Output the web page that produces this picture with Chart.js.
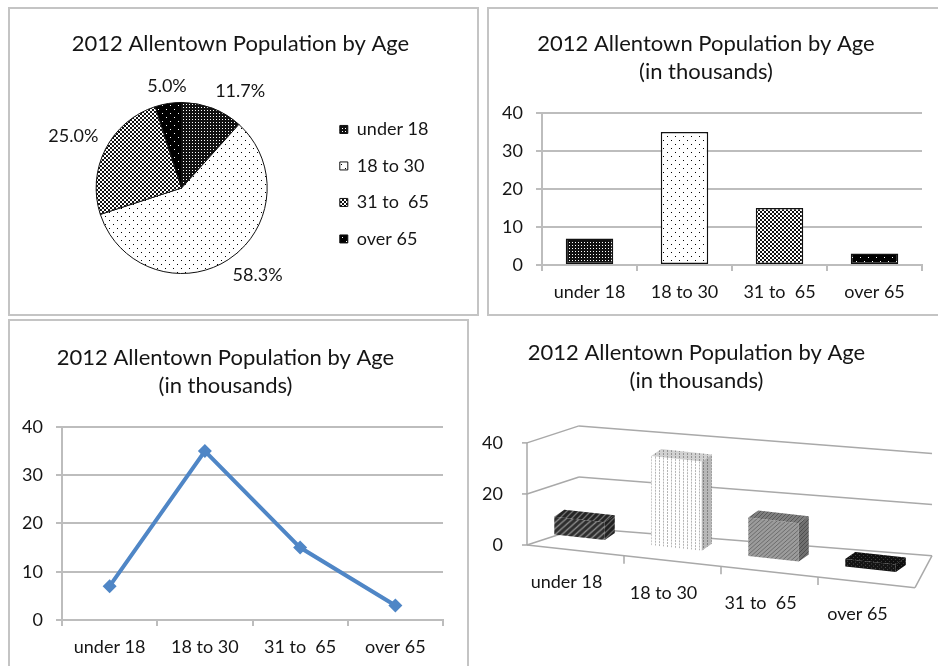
<!DOCTYPE html>
<html>
<head>
<meta charset="utf-8">
<title>2012 Allentown Population by Age</title>
<script src="https://cdn.jsdelivr.net/npm/chart.js@4.4.0/dist/chart.umd.min.js"></script>
<style>
    html, body { margin: 0; padding: 0; background: #fff; }
    body { width: 938px; height: 666px; position: relative; overflow: hidden; font-family: Lato, sans-serif; }
    .panel { position: absolute; }
    .frame { position: absolute; border: 2px solid #c4c4c4; box-sizing: border-box; pointer-events: none; }
</style>
</head>
<body>
<div class="frame" style="left:8px;top:7px;width:471px;height:309px"></div>
<div class="frame" style="left:487px;top:7px;width:470px;height:309px"></div>
<div class="frame" style="left:8px;top:319px;width:461px;height:400px"></div>

<div class="panel" style="left:8px;top:7px;width:470px;height:308px"><canvas id="pieChart"></canvas></div>
<div class="panel" style="left:490px;top:7px;width:448px;height:308px"><canvas id="barChart"></canvas></div>
<div class="panel" style="left:8px;top:322px;width:465px;height:344px"><canvas id="lineChart"></canvas></div>
<div class="panel" style="left:478px;top:318px;width:460px;height:348px"><canvas id="boxChart"></canvas></div>

<script>
const chartTitle = '2012 Allentown Population by Age';
const unitLine = '(in thousands)';
const categories = ['under 18', '18 to 30', '31 to  65', 'over 65'];
const population = [7, 35, 15, 3];
const yTicks = [0, 10, 20, 30, 40];
const yTicks3d = [0, 20, 40];

const ink = '#151515';
const gridColor = '#bdbdbd';
const titleFont = { family: 'Lato', size: 22, weight: 'normal', lineHeight: 1.27 };
const labelFont = { family: 'Lato', size: 18 };

function tile(w, h, bg, paint) {
    const c = document.createElement('canvas');
    c.width = w;
    c.height = h;
    const g = c.getContext('2d');
    g.fillStyle = bg;
    g.fillRect(0, 0, w, h);
    paint(g);
    return g.createPattern(c, 'repeat');
}

function diagonal(g, n, color, width) {
    g.strokeStyle = color;
    g.lineWidth = width;
    g.beginPath();
    g.moveTo(-1, 1); g.lineTo(1, -1);
    g.moveTo(0, n); g.lineTo(n, 0);
    g.moveTo(n - 1, n + 1); g.lineTo(n + 1, n - 1);
    g.stroke();
}

// Excel style pattern fills (pie + flat bars)
const flatFills = [
    tile(3, 3, '#111', g => { g.fillStyle = '#fff'; g.fillRect(1, 1, 1, 1); }),
    tile(8, 8, '#fff', g => { g.fillStyle = '#000'; g.fillRect(1, 1, 1, 1); g.fillRect(5, 5, 1, 1); }),
    tile(4, 4, '#111', g => { g.fillStyle = '#fff'; g.fillRect(0, 0, 2, 2); g.fillRect(2, 2, 2, 2); }),
    tile(8, 8, '#000', g => { g.fillStyle = '#fff'; g.fillRect(2, 2, 1, 1); g.fillRect(6, 6, 1, 1); })
];

// textures of the 3-D boxes
const boxFills = [
    tile(6, 6, '#2e2e2e', g => diagonal(g, 6, '#8a8a8a', 1.3)),
    tile(4, 3, '#fff', g => { g.fillStyle = '#b4b4b4'; g.fillRect(1, 0, 1, 2); }),
    tile(4, 4, '#9c9c9c', g => diagonal(g, 4, '#6c6c6c', 1)),
    tile(4, 4, '#141414', g => { g.fillStyle = '#4a4a4a'; g.fillRect(1, 1, 1, 1); g.fillRect(3, 3, 1, 1); })
];

function titleOptions(lines, top, bottom) {
    return { display: true, text: lines, color: ink, font: titleFont, padding: { top: top, bottom: bottom } };
}

Chart.defaults.font.family = 'Lato';
Chart.defaults.color = ink;

// ---------- pie ----------
const pieLabels = {
    id: 'pieLabels',
    afterDatasetsDraw(chart) {
        const ctx = chart.ctx;
        const values = chart.data.datasets[0].data;
        const total = values.reduce((a, b) => a + b, 0);
        ctx.save();
        ctx.font = '18px Lato';
        ctx.fillStyle = ink;
        chart.getDatasetMeta(0).data.forEach((arc, i) => {
            const a = (arc.startAngle + arc.endAngle) / 2;
            const r = arc.outerRadius + 8;
            const c = Math.cos(a), s = Math.sin(a);
            ctx.textAlign = c > 0.2 ? 'left' : c < -0.2 ? 'right' : 'center';
            ctx.textBaseline = s < -0.2 ? 'bottom' : s > 0.2 ? 'top' : 'middle';
            ctx.fillText((values[i] / total * 100).toFixed(1) + '%', arc.x + c * r, arc.y + s * r);
        });
        ctx.restore();
    }
};

new Chart(document.getElementById('pieChart'), {
    type: 'pie',
    data: {
        labels: categories,
        datasets: [{ data: population, backgroundColor: flatFills, borderColor: '#111', borderWidth: 1 }]
    },
    options: {
        responsive: true, maintainAspectRatio: false, animation: false,
        layout: { padding: { left: 34, right: 39, bottom: 41 } },
        plugins: {
            legend: {
                position: 'right',
                align: 'start',
                fullSize: false,
                labels: { boxWidth: 8, boxHeight: 8, padding: 18.5, color: ink, font: labelFont }
            },
            tooltip: { enabled: false },
            title: titleOptions(chartTitle, 23, 44)
        }
    },
    plugins: [pieLabels]
});

// ---------- shared cartesian axes ----------
function flatScales(yWidth, xHeight) {
    return {
        x: {
            offset: true,
            grid: { display: true, offset: true, drawOnChartArea: false, tickLength: 6, color: gridColor, lineWidth: 2 },
            border: { color: gridColor, width: 2 },
            ticks: { color: ink, font: labelFont, padding: 10 },
            afterFit: s => { s.height = xHeight; }
        },
        y: {
            min: 0, max: 40,
            afterBuildTicks: s => { s.ticks = yTicks.map(v => ({ value: v })); },
            grid: { color: gridColor, lineWidth: 2, tickLength: 6 },
            border: { color: gridColor, width: 2 },
            ticks: { color: ink, font: labelFont, padding: 13 },
            afterFit: s => { s.width = yWidth; }
        }
    };
}

// ---------- bars ----------
new Chart(document.getElementById('barChart'), {
    type: 'bar',
    data: {
        labels: categories,
        datasets: [{
            data: population, backgroundColor: flatFills, borderColor: '#111', borderWidth: 1.5,
            borderSkipped: false, barPercentage: 0.5, categoryPercentage: 1
        }]
    },
    options: {
        responsive: true, maintainAspectRatio: false, animation: false,
        layout: { padding: { right: 16 } },
        plugins: {
            legend: { display: false },
            tooltip: { enabled: false },
            title: titleOptions([chartTitle, unitLine], 23, 27)
        },
        scales: flatScales(52, 50)
    }
});

// ---------- line ----------
new Chart(document.getElementById('lineChart'), {
    type: 'line',
    data: {
        labels: categories,
        datasets: [{
            data: population, borderColor: '#4f86c6', borderWidth: 4, tension: 0,
            pointStyle: 'rectRot', pointRadius: 7, pointBackgroundColor: '#4f86c6', pointBorderWidth: 0
        }]
    },
    options: {
        responsive: true, maintainAspectRatio: false, animation: false,
        layout: { padding: { right: 30 } },
        plugins: {
            legend: { display: false },
            tooltip: { enabled: false },
            title: titleOptions([chartTitle, unitLine], 22, 27)
        },
        scales: flatScales(54, 46)
    }
});

// ---------- 3-D bars ----------
const K = 0.11;                 // slope of the front plane
const BAR_SHIFT = [4, -13];
const BAR_DEPTH = [10, -7];
const WALL_LEFT = [52, -17];
const WALL_RIGHT = [17, -32];

const add = (p, d) => [p[0] + d[0], p[1] + d[1]];

function front(chart, x, y) {
    return [x, y + K * (x - chart.chartArea.left)];
}

function polygon(ctx, pts, fill, shade) {
    ctx.beginPath();
    pts.forEach((p, i) => i ? ctx.lineTo(p[0], p[1]) : ctx.moveTo(p[0], p[1]));
    ctx.closePath();
    ctx.fillStyle = fill;
    ctx.fill();
    ctx.fillStyle = shade;
    ctx.fill();
}

const box3d = {
    id: 'box3d',
    beforeDatasetsDraw(chart) {
        const { ctx, chartArea: a, scales: { x, y } } = chart;
        const line = (p, q) => { ctx.beginPath(); ctx.moveTo(p[0], p[1]); ctx.lineTo(q[0], q[1]); ctx.stroke(); };
        ctx.save();
        ctx.strokeStyle = '#a9a9a9';
        ctx.lineWidth = 1.5;
        y.ticks.forEach(t => {
            const py = y.getPixelForValue(t.value);
            const fl = front(chart, a.left, py), fr = front(chart, a.right, py);
            const bl = add(fl, WALL_LEFT), br = add(fr, WALL_RIGHT);
            line(fl, bl);
            line(bl, br);
            line([fl[0] - 5, fl[1]], fl);
        });
        line(front(chart, a.left, a.bottom), front(chart, a.left, a.top));
        const f0 = front(chart, a.left, a.bottom), f1 = front(chart, a.right, a.bottom);
        line(f0, f1);
        line(f1, add(f1, WALL_RIGHT));
        for (let i = 0; i < chart.data.labels.length - 1; i++) {
            const p = front(chart, (x.getPixelForValue(i) + x.getPixelForValue(i + 1)) / 2, a.bottom);
            line(p, [p[0], p[1] + 8]);
        }
        ctx.restore();

        // front faces are drawn by Chart.js through this skew
        ctx.save();
        ctx.transform(1, K, 0, 1, BAR_SHIFT[0], BAR_SHIFT[1] - K * a.left);
    },
    afterDatasetsDraw(chart) {
        const { ctx } = chart;
        ctx.restore();
        const P = (X, Y) => add(front(chart, X, Y), BAR_SHIFT);
        chart.getDatasetMeta(0).data.forEach((bar, i) => {
            const { x, y, base, width } = bar.getProps(['x', 'y', 'base', 'width'], true);
            const tl = P(x - width / 2, y), tr = P(x + width / 2, y), br = P(x + width / 2, base);
            polygon(ctx, [tl, tr, add(tr, BAR_DEPTH), add(tl, BAR_DEPTH)], boxFills[i], 'rgba(0,0,0,0.18)');
            polygon(ctx, [tr, br, add(br, BAR_DEPTH), add(tr, BAR_DEPTH)], boxFills[i], 'rgba(0,0,0,0.28)');
        });
    },
    afterDraw(chart) {
        const { ctx, chartArea: a, scales: { x } } = chart;
        ctx.save();
        ctx.font = '18px Lato';
        ctx.fillStyle = ink;
        ctx.textAlign = 'center';
        ctx.textBaseline = 'middle';
        chart.data.labels.forEach((label, i) => {
            const cx = x.getPixelForValue(i);
            const p = front(chart, cx, a.bottom);
            ctx.fillText(label, cx - 9, p[1] + 32);
        });
        ctx.restore();
    }
};

new Chart(document.getElementById('boxChart'), {
    type: 'bar',
    data: {
        labels: categories,
        datasets: [{
            data: population, backgroundColor: boxFills, borderWidth: 0,
            barPercentage: 0.52, categoryPercentage: 1, clip: false
        }]
    },
    options: {
        responsive: true, maintainAspectRatio: false, animation: false,
        layout: { padding: { right: 23, bottom: 121 } },
        plugins: {
            legend: { display: false },
            tooltip: { enabled: false },
            title: titleOptions([chartTitle, unitLine], 21, 48)
        },
        scales: {
            x: { display: false },
            y: {
                min: 0, max: 40,
                afterBuildTicks: s => { s.ticks = yTicks3d.map(v => ({ value: v })); },
                grid: { display: false, drawTicks: false },
                border: { display: false },
                ticks: { color: ink, font: labelFont, padding: 24 },
                afterFit: s => { s.width = 49; }
            }
        }
    },
    plugins: [box3d]
});
</script>
</body>
</html>
